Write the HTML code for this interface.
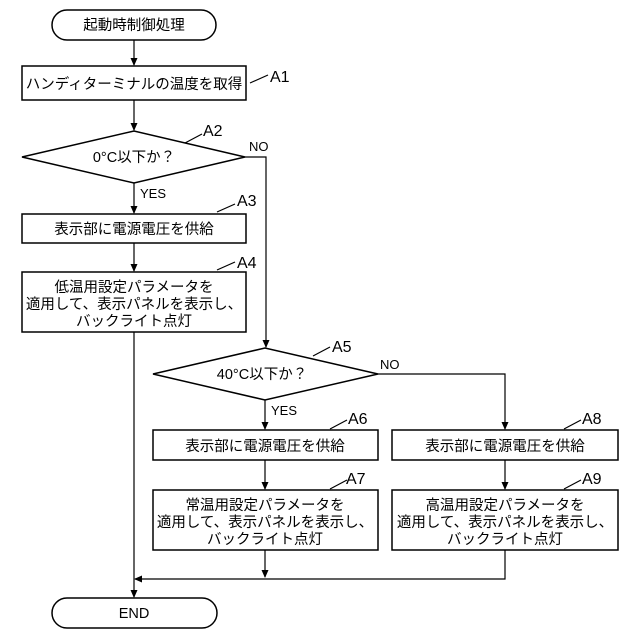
<!DOCTYPE html>
<html><head><meta charset="utf-8"><style>
html,body{margin:0;padding:0;background:#fff;}
svg{display:block;}
text{font-family:"Liberation Sans","Noto Sans CJK JP",sans-serif;fill:#000;}
.b{font-size:14.5px;}
.l{font-size:16px;}
.s{font-size:13px;}
</style></head><body>
<svg width="640" height="640" viewBox="0 0 640 640" xmlns="http://www.w3.org/2000/svg">
<defs><marker id="a" markerWidth="8" markerHeight="8" refX="7" refY="4" orient="auto" markerUnits="userSpaceOnUse"><path d="M0,0.5 L8,4 L0,7.5 z" fill="#000"/></marker></defs>
<g fill="none" stroke="#000" stroke-width="1.5">
<rect x="52" y="10" width="164" height="30" rx="15"/>
<rect x="22" y="66" width="224" height="34"/>
<polygon points="22,157 134,131 245,157 134,183"/>
<rect x="22" y="214" width="224" height="29"/>
<rect x="22" y="272" width="224" height="60"/>
<polygon points="153,374 265,348 378,374 265,400"/>
<rect x="153" y="430" width="225" height="30"/>
<rect x="392" y="430" width="226" height="30"/>
<rect x="153" y="490" width="225" height="60"/>
<rect x="392" y="490" width="226" height="60"/>
<rect x="52" y="598" width="165" height="30" rx="15"/>
<g stroke-width="1.2">
<line x1="134" y1="40" x2="134" y2="65" marker-end="url(#a)"/>
<line x1="134" y1="100" x2="134" y2="130" marker-end="url(#a)"/>
<line x1="134" y1="183" x2="134" y2="213" marker-end="url(#a)"/>
<line x1="134" y1="243" x2="134" y2="271" marker-end="url(#a)"/>
<line x1="134" y1="332" x2="134" y2="597" marker-end="url(#a)"/>
<polyline points="245,157 266,157 266,347" marker-end="url(#a)"/>
<line x1="265" y1="400" x2="265" y2="429" marker-end="url(#a)"/>
<polyline points="378,374 505,374 505,429" marker-end="url(#a)"/>
<line x1="265" y1="460" x2="265" y2="489" marker-end="url(#a)"/>
<line x1="505" y1="460" x2="505" y2="489" marker-end="url(#a)"/>
<line x1="265" y1="550" x2="265" y2="577" marker-end="url(#a)"/>
<polyline points="505,550 505,579 135,579" marker-end="url(#a)"/>
<line x1="250" y1="83" x2="268" y2="75"/>
<line x1="185" y1="143" x2="202" y2="134"/>
<line x1="217" y1="212" x2="235" y2="204"/>
<line x1="217" y1="270" x2="235" y2="262"/>
<line x1="313" y1="356" x2="330" y2="347"/>
<line x1="330" y1="429" x2="347" y2="420"/>
<line x1="330" y1="489" x2="347" y2="480"/>
<line x1="564" y1="429" x2="581" y2="420"/>
<line x1="564" y1="489" x2="581" y2="480"/>
</g></g>
<g text-anchor="middle" class="b">
<text x="134" y="30">起動時制御処理</text>
<text x="134" y="89">ハンディターミナルの温度を取得</text>
<text x="134" y="162">0°C以下か？</text>
<text x="134" y="234">表示部に電源電圧を供給</text>
<text x="134" y="292">低温用設定パラメータを</text>
<text x="134" y="309">適用して、表示パネルを表示し、</text>
<text x="134" y="326">バックライト点灯</text>
<text x="262" y="379">40°C以下か？</text>
<text x="265" y="451">表示部に電源電圧を供給</text>
<text x="505" y="451">表示部に電源電圧を供給</text>
<text x="265" y="510">常温用設定パラメータを</text>
<text x="265" y="527">適用して、表示パネルを表示し、</text>
<text x="265" y="544">バックライト点灯</text>
<text x="505" y="510">高温用設定パラメータを</text>
<text x="505" y="527">適用して、表示パネルを表示し、</text>
<text x="505" y="544">バックライト点灯</text>
<text x="134" y="618">END</text>
</g>
<g class="l">
<text x="270" y="82">A1</text>
<text x="203" y="136">A2</text>
<text x="237" y="206">A3</text>
<text x="237" y="268">A4</text>
<text x="332" y="352">A5</text>
<text x="348" y="424">A6</text>
<text x="346" y="484">A7</text>
<text x="582" y="424">A8</text>
<text x="582" y="484">A9</text>
</g>
<g class="s">
<text x="249" y="151">NO</text>
<text x="140" y="198">YES</text>
<text x="380" y="369">NO</text>
<text x="271" y="415">YES</text>
</g>
</svg>
</body></html>
